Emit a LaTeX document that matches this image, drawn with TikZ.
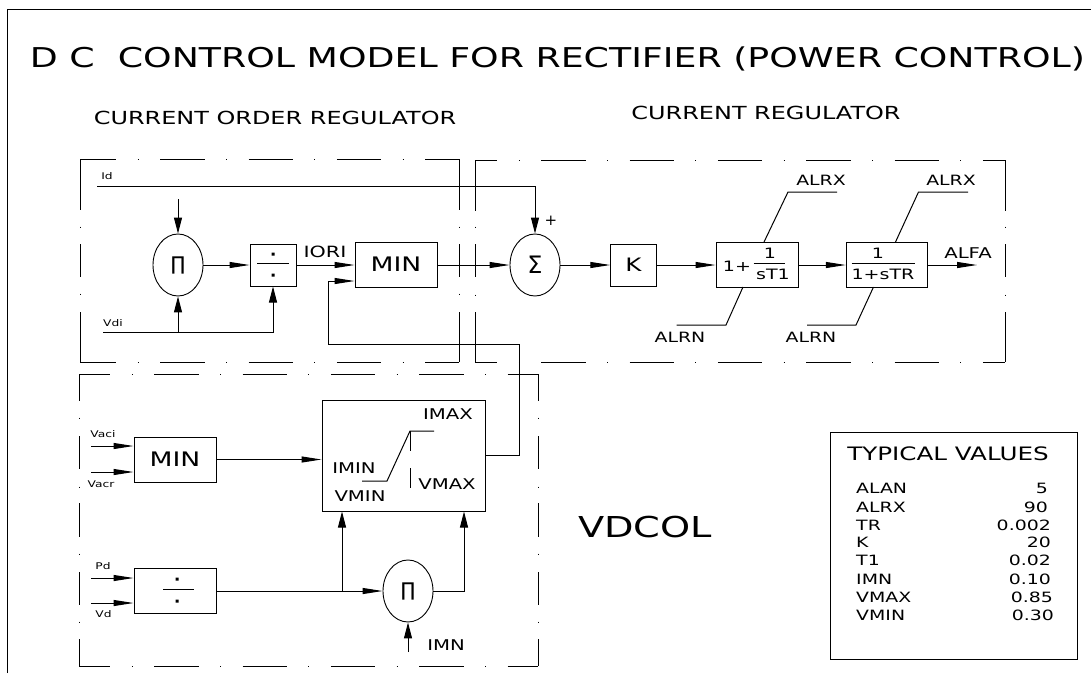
\documentclass[tikz,border=0pt]{standalone}
\usepackage{fontspec}
\setmainfont[FakeStretch=1.33]{DejaVu Sans}
\newfontfamily\plainfam{DejaVu Sans}
\usetikzlibrary{arrows.meta,shapes.geometric,calc}
\newcommand\fsz[1]{\fontsize{#1}{#1}\selectfont}
\tikzset{
  blockbox/.style={draw,line width=1pt,inner sep=0pt},
  opbubble/.style={draw,ellipse,line width=0.9pt,minimum width=50pt,minimum height=62pt,inner sep=0pt,font=\plainfam\fsz{24}},
  wire/.style={line width=1pt},
  harrow/.style={wire,-{Triangle[length=20pt,width=6pt]}},
  varrow/.style={wire,-{Triangle[length=16pt,width=8pt]}},
  regionline/.style={line width=1pt},
  hzone/.style={regionline,dash pattern=on 44.3pt off 21.5pt on 1pt off 21.5pt,dash phase=#1},
  txt/.style={inner sep=0pt,font=\fsz{14.8}},
  limtxt/.style={inner sep=0pt,font=\fsz{14.2}},
  tiny/.style={inner sep=0pt,font=\fsz{9.2}},
  fractxt/.style={inner sep=0pt,font=\fsz{14.3}},
  mintxt/.style={font=\fsz{20}},
}
\begin{document}
\begin{tikzpicture}[x=1pt,y=-1pt]
\useasboundingbox (0,0) rectangle (1091,673);
% outer frame
\draw[line width=1pt] (7,673) -- (7,9) -- (1091,9);
% headings
\node[inner sep=0pt,font=\fsz{27.3}] (title) at (557.5,59) {D C\ \ CONTROL MODEL FOR RECTIFIER (POWER CONTROL)};
\node[inner sep=0pt,font=\fsz{18}] (h1) at (275,118) {CURRENT ORDER REGULATOR};
\node[inner sep=0pt,font=\fsz{18}] (h2) at (766,113) {CURRENT REGULATOR};
\node[inner sep=0pt,font=\fsz{28.8}] (vd) at (645,527) {VDCOL};
% region 1
\draw[hzone=8pt] (80,159) -- (459,159);
\draw[hzone=8pt] (80,362) -- (459,362);
\foreach \x in {80,459}{
  \draw[regionline] (\x,159)--(\x,210) (\x,226.5)--(\x,227.5) (\x,244)--(\x,277) (\x,293.5)--(\x,294.5) (\x,312)--(\x,362);
}
% region 2
\draw[hzone=22pt] (475,160) -- (1005,160);
\draw[hzone=22pt] (475,362) -- (1005,362);
\foreach \x in {475,1005}{
  \draw[regionline] (\x,160)--(\x,211) (\x,226.5)--(\x,227.5) (\x,244)--(\x,277) (\x,294.5)--(\x,295.5) (\x,312)--(\x,362);
}
% region 3
\draw[hzone=13pt] (79,374) -- (538,374);
\draw[hzone=13pt] (79,666) -- (538,666);
\foreach \x in {79,538}{
  \draw[regionline] (\x,374)--(\x,401) (\x,417.5)--(\x,418.5) (\x,436)--(\x,469) (\x,486.5)--(\x,487.5) (\x,503)--(\x,537) (\x,553.5)--(\x,554.5) (\x,572)--(\x,605) (\x,621.5)--(\x,622.5) (\x,639)--(\x,666);
}
% blocks
\node[opbubble,font=\plainfam\fsz{19}] (pi1) at (178,265) {∏};
\node[blockbox,minimum width=46pt,minimum height=42pt] (div1) at (273,265) {};
\node[blockbox,minimum width=82pt,minimum height=45pt,mintxt] (min1) at (396,264.5) {MIN};
\node[opbubble] (sum) at (535,265) {Σ};
\node[blockbox,minimum width=45.5pt,minimum height=42pt,font=\fsz{18.5}] (k) at (633.5,265) {K};
\node[blockbox,minimum width=82pt,minimum height=45pt] (f1) at (757,264.5) {};
\node[blockbox,minimum width=81.5pt,minimum height=45pt] (f2) at (887,264.5) {};
\node[blockbox,minimum width=82pt,minimum height=45pt,mintxt] (min2) at (175,459.5) {MIN};
\node[blockbox,minimum width=163pt,minimum height=111pt] (lim) at (403.5,455.5) {};
\node[blockbox,minimum width=82pt,minimum height=45pt] (div2) at (175,590.5) {};
\node[opbubble,font=\plainfam\fsz{19}] (pi2) at (408,591) {∏};
\node[blockbox,minimum width=247pt,minimum height=227pt] (tab) at (953.5,545.5) {};
% division signs
\draw[line width=1pt] (257,263) -- (289,263);
\fill (271.5,252.5) rectangle (274.5,255.5) (271.5,273.5) rectangle (274.5,276.5);
\draw[line width=1pt] (163,589) -- (194,589);
\fill (175.5,577.5) rectangle (178.5,580.5) (175.5,599.5) rectangle (178.5,602.5);
% fractions
\node[fractxt] (p1) at (737,266) {1+};
\draw[line width=1pt] (753.5,263) -- (785,263);
\node[fractxt] (n1) at (770,253) {1};
\node[fractxt] (d1) at (773,274) {sT1};
\draw[line width=1pt] (851.5,263) -- (915,263);
\node[fractxt] (n2) at (878,253) {1};
\node[fractxt] (d2) at (883,274) {1+sTR};
% free ends
\coordinate (idstart) at (97,186);
\coordinate (idturn) at (535,186);
\coordinate (pitop) at (178,199);
\coordinate (vdistart) at (103,332);
\coordinate (vditurn) at (273,332);
\coordinate (vditap) at (178,332);
\coordinate (fb1) at (328,281);
\coordinate (fb2) at (328,344);
\coordinate (fb3) at (519,344);
\coordinate (fb4) at (519,455.5);
\coordinate (alfaend) at (977,265);
\coordinate (ci1) at (91,446);
\coordinate (ci2) at (91,472);
\coordinate (pdin) at (91,578);
\coordinate (vdin) at (91,603);
\coordinate (tap) at (342,591);
\coordinate (piturn) at (464,591);
\coordinate (imnstart) at (408,652);
% connectors
\draw[varrow] (idstart) -- (idturn) -- (sum.north);
\draw[varrow] (pitop) -- (pi1.north);
\draw[varrow] (vditap) -- (pi1.south);
\draw[varrow] (vdistart) -- (vditurn) -- (div1.south);
\draw[harrow] (pi1.east) -- (div1.west);
\draw[harrow] (div1.east) -- (div1.east -| min1.west);
\draw[harrow] (fb4) -- (fb3) -- (fb2) -- (fb1) -- (fb1 -| min1.west);
\draw[wire] (lim.east |- fb4) -- (fb4);
\draw[harrow] (min1.east |- sum.west) -- (sum.west);
\draw[harrow] (sum.east) -- (k.west);
\draw[harrow] (k.east) -- (k.east -| f1.west);
\draw[harrow] (f1.east |- k.east) -- (k.east -| f2.west);
\draw[harrow] (f2.east |- k.east) -- (alfaend);
\coordinate (rx1a) at (764,242); \coordinate (rx1b) at (788,192); \coordinate (rx1c) at (837,192);
\coordinate (rx2a) at (895.5,242); \coordinate (rx2b) at (918.5,192); \coordinate (rx2c) at (968,192);
\coordinate (rn1a) at (743,287); \coordinate (rn1b) at (726,325); \coordinate (rn1c) at (676.5,325);
\coordinate (rn2a) at (873.5,287); \coordinate (rn2b) at (856,325); \coordinate (rn2c) at (807,325);
\draw[wire] (rx1a) -- (rx1b) -- (rx1c);
\draw[wire] (rx2a) -- (rx2b) -- (rx2c);
\draw[wire] (rn1a) -- (rn1b) -- (rn1c);
\draw[wire] (rn2a) -- (rn2b) -- (rn2c);
\draw[harrow] (ci1) -- (ci1 -| min2.west);
\draw[harrow] (ci2) -- (ci2 -| min2.west);
\draw[harrow] (min2.east) -- (min2.east -| lim.west);
\draw[harrow] (pdin) -- (pdin -| div2.west);
\draw[harrow] (vdin) -- (vdin -| div2.west);
\draw[harrow] (div2.east |- pi2.west) -- (pi2.west);
\draw[varrow] (tap) -- (tap |- lim.south);
\draw[varrow] (pi2.east) -- (piturn) -- (piturn |- lim.south);
\draw[varrow] (imnstart) -- (pi2.south);
% limiter curve
\draw[wire] (362,481) -- (387,481) -- (410,431) -- (434,431);
\draw[wire] (410,431) -- (410,451) (410,468) -- (410,488);
% labels
\node[tiny] (lid) at (107,176) {Id};
\node[tiny] (lvdi) at (113,323) {Vdi};
\node[inner sep=0pt,font=\fsz{15.5}] (liori) at (325,252) {IORI};
\node[inner sep=0pt,font=\plainfam\fsz{15}] (lplus) at (551,221) {+};
\node[limtxt] (lx1) at (821,180) {ALRX};
\node[limtxt] (lx2) at (951,180) {ALRX};
\node[limtxt] (ln1) at (680,337) {ALRN};
\node[limtxt] (ln2) at (811,337) {ALRN};
\node[txt] (lalfa) at (968,253) {ALFA};
\node[tiny] (lvaci) at (103,434) {Vaci};
\node[tiny] (lvacr) at (101,484) {Vacr};
\node[tiny] (lpd) at (103,566) {Pd};
\node[tiny] (lvd) at (103.5,614) {Vd};
\node[txt] (limax) at (448,414) {IMAX};
\node[txt] (limin) at (354,468) {IMIN};
\node[txt] (lvmin) at (360,496) {VMIN};
\node[txt] (lvmax) at (447,484) {VMAX};
\node[txt] (limn) at (446,645) {IMN};
% table
\node[inner sep=0pt,font=\fsz{18.5}] (ttl) at (948,454) {TYPICAL VALUES};
\foreach \n/\y/\a/\v/\r in {a/488/ALAN/5/1048,b/507/ALRX/90/1048,c/525/TR/0.002/1051,d/542/K/20/1051,e/560/T1/0.02/1051,f/579/IMN/0.10/1051,g/597/VMAX/0.85/1053,h/615/VMIN/0.30/1054}{
  \node[limtxt,anchor=west] (tn\n) at (856,\y) {\a};
  \node[limtxt,anchor=east] (tv\n) at (\r,\y) {\v};
}
\end{tikzpicture}
\end{document}
